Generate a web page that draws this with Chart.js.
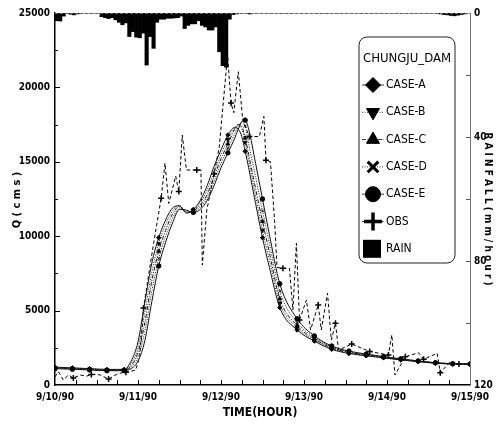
<!DOCTYPE html>
<html>
<head>
<meta charset="utf-8">
<script src="https://cdn.jsdelivr.net/npm/chart.js@4.4.0/dist/chart.umd.min.js"></script>
<style>
html, body { margin: 0; padding: 0; background: #fff; }
</style>
</head>
<body>
<canvas id="hydro" width="498" height="424"></canvas>
<script>
// time axis in hours from 9/10/90 00:00
const DATE_LABELS = ['9/10/90', '9/11/90', '9/12/90', '9/13/90', '9/14/90', '9/15/90'];
const HOURS = [0,5,10,15,20,22,24,26,28,30,32,34,36,38,40,42,44,46,48,50,52,53,54,55,56,58,60,62,65,70,75,80,85,90,95,100,105,110,115,120];

// simulated discharge (cms)
const CASE_A = [1200,1150,1100,1050,1050,1600,2900,5600,8200,9900,11100,11900,12050,11550,11800,12400,13400,14700,15800,16800,17300,17200,16700,15700,14600,12200,9900,7900,5200,3700,2950,2400,2120,1960,1820,1680,1570,1460,1410,1390];
const CASE_B = [1180,1130,1080,1030,1020,1450,2500,4900,7600,9500,10800,11700,12050,11600,11750,12250,13100,14300,15500,16500,17300,17500,17200,16300,15100,12700,10400,8400,5500,3850,3020,2450,2160,1990,1850,1700,1580,1470,1415,1395];
const CASE_C = [1150,1100,1050,1000,1000,1300,2200,4200,7000,9000,10400,11500,12000,11600,11700,12100,12800,14000,15200,16200,17200,17500,17400,16600,15500,13200,11000,8900,5800,4000,3100,2500,2200,2020,1870,1720,1600,1480,1420,1400];
const CASE_D = [1130,1080,1030,980,980,1200,1900,3600,6300,8500,10000,11200,11900,11700,11650,11950,12600,13700,14900,15900,16900,17400,17650,17400,16200,14000,11700,9500,6300,4200,3200,2560,2240,2050,1890,1740,1610,1490,1425,1405];
const CASE_E = [1100,1060,1010,960,960,1100,1600,3000,5600,8000,9600,10900,11800,11750,11600,11800,12400,13400,14600,15600,16600,17200,17700,17800,17200,14900,12500,10100,6800,4450,3300,2620,2280,2080,1910,1760,1620,1500,1430,1410];

// observed discharge
const OBS_HOURS = [0,1,2.4,3.9,5.3,7.3,9.2,10.5,12,13.1,15.5,17.4,19.4,20.5,21.3,23.3,24.5,25.6,27,28.5,30.7,31.8,32.9,34.9,35.8,36.8,38,41,42.2,42.6,43.9,46,47.5,49.9,50.9,51.7,53,54.3,56.2,59.1,60.4,61,62.3,63.5,64.2,65.9,67.8,68.8,69.8,70.7,72.7,73.9,76.1,77,78.8,79.9,81.1,82,85.8,91,96.4,97.4,98.3,101.3,105.1,106.6,110.5,111.4,114.3,116.8,120];
const OBS_Q = [560,890,340,670,470,670,600,700,720,670,400,670,830,860,890,1000,1900,5170,7300,9500,12550,14900,12200,14040,13000,16800,14450,14450,14450,8060,11760,14200,16000,22180,18950,18300,21050,17800,16700,16700,18050,15100,15000,11000,7900,7840,7840,5040,9520,4370,5710,3700,5380,3700,6160,3020,4150,2350,2750,2250,2020,3360,670,1900,2170,1730,2130,830,1570,1410,1410];
const OBS_MARK_HOURS = [5.3,10.5,15.5,20.5,25.6,30.7,35.8,41,46,50.9,56.2,61,65.9,70.7,76.1,81.1,85.8,91,96.4,101.3,106.6,111.4,116.8];

// hourly rainfall (mm/hour), hour 0 .. 119
const RAIN = [
  2.5,2.6,1.0,0,0.4,0.6,0.3,0,0,0,0,0,0,1.2,1.5,1.8,1.5,2.2,3.0,3.8,
  3.2,7.6,6.0,7.8,8.0,6.5,16.8,7.6,11.4,3.0,2.0,2.0,1.7,1.7,1.6,1.5,1.0,5.0,4.0,3.5,
  3.5,2.5,4.0,4.5,5.5,5.5,4.5,12.5,17.0,17.5,2.0,0.5,0.3,0,0,0.2,0.3,0,0,0,
  0,0,0,0,0,0,0,0,0,0,0,0,0,0,0,0,0,0,0,0,
  0,0,0,0,0,0,0,0,0,0,0,0,0,0,0,0,0,0,0,0,
  0,0,0,0,0,0,0,0,0,0,0,0.3,0.5,0.6,0.8,0.9,0.7,0.5,0.3,0
];

const LEGEND_TITLE = 'CHUNGJU_DAM';
const LEGEND_LABELS = ['CASE-A', 'CASE-B', 'CASE-C', 'CASE-D', 'CASE-E', 'OBS', 'RAIN'];

const NARROW = "'Liberation Sans Narrow', 'DejaVu Sans Condensed', 'Arial Narrow', sans-serif";
Chart.defaults.font.family = NARROW;
Chart.defaults.color = '#000';

function caseSet(label, values, style, rotation, dash) {
  return {
    type: 'line',
    label: label,
    data: values.map((v, i) => ({ x: HOURS[i], y: v })),
    yAxisID: 'y',
    borderColor: '#111',
    backgroundColor: '#000',
    borderWidth: 1,
    borderDash: dash,
    cubicInterpolationMode: 'monotone',
    pointStyle: style,
    rotation: rotation,
    pointRadius: ctx => (HOURS[ctx.dataIndex] % 5 === 0 ? 2.2 : 0),
    pointBorderWidth: 1,
    pointBorderColor: '#000',
    pointBackgroundColor: '#000'
  };
}

const datasets = [
  caseSet('CASE-A', CASE_A, 'rectRot', 0, []),
  caseSet('CASE-B', CASE_B, 'triangle', 180, [1, 1.5]),
  caseSet('CASE-C', CASE_C, 'triangle', 0, [4, 1.5, 1, 1.5]),
  caseSet('CASE-D', CASE_D, 'crossRot', 0, [1, 1.5]),
  caseSet('CASE-E', CASE_E, 'circle', 0, []),
  {
    type: 'line',
    label: 'OBS',
    data: OBS_Q.map((v, i) => ({ x: OBS_HOURS[i], y: v })),
    yAxisID: 'y',
    borderColor: '#000',
    borderWidth: 1,
    borderDash: [3.5, 2.5],
    tension: 0,
    pointStyle: 'cross',
    pointRadius: ctx => (OBS_MARK_HOURS.includes(OBS_HOURS[ctx.dataIndex]) ? 3 : 0),
    pointBorderWidth: 1.5,
    pointBorderColor: '#000'
  },
  {
    type: 'bar',
    label: 'RAIN',
    data: RAIN.map((v, i) => ({ x: i + 0.5, y: v })),
    yAxisID: 'yR',
    backgroundColor: '#000',
    borderWidth: 0,
    barPercentage: 1,
    categoryPercentage: 1
  }
];

function tickLine(ctx, x1, y1, x2, y2) {
  ctx.beginPath();
  ctx.moveTo(x1, y1);
  ctx.lineTo(x2, y2);
  ctx.stroke();
}

const extras = {
  id: 'extras',
  afterDraw(chart) {
    const ctx = chart.ctx;
    const a = chart.chartArea;
    const sx = chart.scales.x, sy = chart.scales.y, sr = chart.scales.yR;
    ctx.save();

    // dotted top frame
    ctx.strokeStyle = '#666';
    ctx.lineWidth = 1;
    ctx.setLineDash([3, 2]);
    tickLine(ctx, a.left, a.top + 0.5, a.right, a.top + 0.5);
    ctx.setLineDash([]);

    // inward ticks
    ctx.strokeStyle = '#000';
    for (let h = 6; h < 120; h += 6) {
      const px = Math.round(sx.getPixelForValue(h)) + 0.5;
      tickLine(ctx, px, a.bottom, px, a.bottom - 5);
    }
    for (let q = 2500; q < 25000; q += 2500) {
      const py = Math.round(sy.getPixelForValue(q)) + 0.5;
      tickLine(ctx, a.left, py, a.left + (q % 5000 === 0 ? 5 : 3), py);
    }
    ctx.strokeStyle = '#555';
    for (let r = 20; r < 120; r += 20) {
      const py = Math.round(sr.getPixelForValue(r)) + 0.5;
      tickLine(ctx, a.right, py, a.right - 4, py);
    }

    // axis titles
    ctx.fillStyle = '#000';
    ctx.textAlign = 'center';
    ctx.textBaseline = 'middle';
    ctx.font = 'bold 12px ' + NARROW;
    ctx.fillText('TIME(HOUR)', 260, 413);
    ctx.font = 'bold 11px ' + NARROW;
    ctx.save();
    ctx.translate(17, 200);
    ctx.rotate(-Math.PI / 2);
    ctx.fillText('Q ( c m s )', 0, 0);
    ctx.restore();
    ctx.save();
    ctx.translate(488, 209);
    ctx.rotate(Math.PI / 2);
    ctx.font = 'bold 10px ' + NARROW;
    ctx.fillText('R A I N F A L L ( m m / h o u r )', 0, 0);
    ctx.restore();

    // legend box
    const bx = 359, by = 37, bw = 96, bh = 226;
    ctx.beginPath();
    ctx.roundRect(bx, by, bw, bh, 8);
    ctx.fillStyle = '#fff';
    ctx.fill();
    ctx.strokeStyle = '#222';
    ctx.lineWidth = 1;
    ctx.stroke();

    ctx.fillStyle = '#000';
    ctx.textAlign = 'left';
    ctx.font = '13px ' + NARROW;
    ctx.fillText(LEGEND_TITLE, bx + 4, 59);

    ctx.font = '12px ' + NARROW;
    LEGEND_LABELS.forEach((lab, i) => {
      const cy = 85 + i * 27.3;
      const ds = chart.data.datasets[i];
      if (ds.type === 'line') {
        ctx.strokeStyle = '#000';
        ctx.lineWidth = 0.8;
        ctx.setLineDash(ds.borderDash || []);
        tickLine(ctx, bx + 3, cy, bx + 25, cy);
        ctx.setLineDash([]);
        ctx.fillStyle = '#000';
        ctx.strokeStyle = '#000';
        const big = ds.pointStyle === 'cross';
        ctx.lineWidth = big ? 3.5 : (ds.pointStyle === 'crossRot' ? 3 : 1);
        Chart.helpers.drawPoint(ctx, {
          pointStyle: ds.pointStyle,
          radius: big ? 9 : 7.5,
          rotation: ds.rotation || 0,
          borderWidth: ctx.lineWidth
        }, bx + 14, cy);
      } else {
        ctx.fillStyle = '#000';
        ctx.fillRect(bx + 4, cy - 9, 18, 18);
      }
      ctx.fillStyle = '#000';
      ctx.fillText(lab, bx + 27, cy);
    });

    ctx.restore();
  }
};

new Chart(document.getElementById('hydro'), {
  type: 'line',
  data: { datasets: datasets },
  options: {
    responsive: false,
    animation: false,
    layout: { padding: { top: 13, left: 0, right: 0, bottom: 0 } },
    plugins: { legend: { display: false }, tooltip: { enabled: false } },
    scales: {
      x: {
        type: 'linear',
        min: 0,
        max: 120,
        offset: false,
        grid: { display: false, drawTicks: false },
        border: { display: true, color: '#000', width: 1.5 },
        ticks: {
          stepSize: 24,
          autoSkip: false,
          maxRotation: 0,
          padding: 6,
          font: { size: 10, weight: 'bold' },
          callback: v => DATE_LABELS[v / 24]
        },
        afterFit: s => { s.height = 39; }
      },
      y: {
        position: 'left',
        min: 0,
        max: 25000,
        grid: { display: false, drawTicks: false },
        border: { display: true, color: '#000', width: 1.5 },
        ticks: { stepSize: 5000, padding: 5, font: { size: 10, weight: 'bold' }, callback: v => String(v) },
        afterFit: s => { s.width = 55; }
      },
      yR: {
        position: 'right',
        reverse: true,
        min: 0,
        max: 120,
        grid: { display: false, drawTicks: false },
        border: { display: true, color: '#777', width: 1, dash: [3, 2] },
        ticks: {
          stepSize: 20,
          padding: 4,
          font: { size: 10, weight: 'bold' },
          callback: v => (v % 40 === 0 ? String(v) : '')
        },
        afterFit: s => { s.width = 28; }
      }
    }
  },
  plugins: [extras]
});
</script>
</body>
</html>
